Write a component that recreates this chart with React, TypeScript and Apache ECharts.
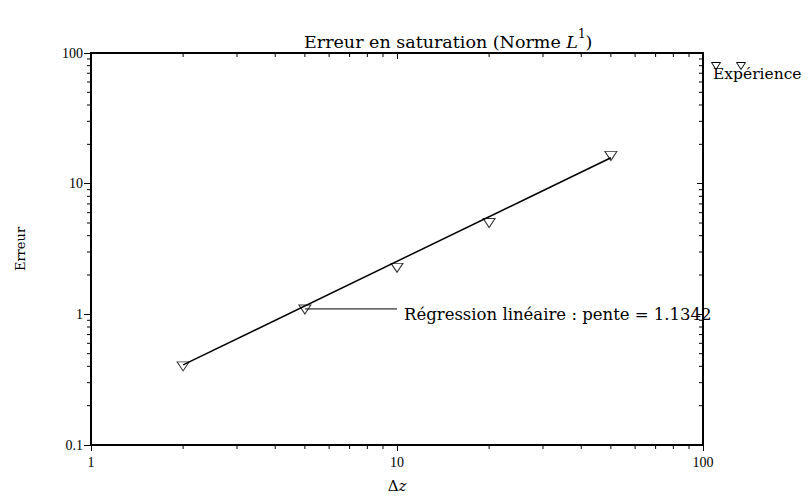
import React, { useEffect, useRef } from "react";
import * as echarts from "echarts";

// ---- data ----
const expX: number[] = [2, 5, 10, 20, 50];
const expY: number[] = [0.40, 1.09, 2.27, 5.0, 16.3];
const regX: number[] = [2, 50];
const regY: number[] = [0.41, 15.8];
const annotX: number[] = [5, 10];
const annotY: number[] = [1.1, 1.1];
const slopeText = "Régression linéaire : pente = 1.1342";
const legendText = "Expérience";
const xMinorTicks: number[] = [2, 3, 4, 5, 6, 7, 8, 9, 20, 30, 40, 50, 60, 70, 80, 90];
const yMinorTicks: number[] = [0.2, 0.3, 0.4, 0.5, 0.6, 0.7, 0.8, 0.9, 2, 3, 4, 5, 6, 7, 8, 9, 20, 30, 40, 50, 60, 70, 80, 90];

const SERIF = "DejaVu Serif";
const TIMES = "Liberation Serif";

export default function App() {
  const ref = useRef<HTMLDivElement>(null);
  useEffect(() => {
    if (!ref.current) return;
    const chart = echarts.init(ref.current, null, { renderer: "svg" });
    const axisLine = { show: true, lineStyle: { color: "#000", width: 2 } };
    const option: any = {
      animation: false,
      backgroundColor: "#fff",
      title: {
        text: "{a|Erreur en saturation (Norme }{i|L}{s|1}{a|)}",
        left: 299,
        top: 23,
        textStyle: {
          fontWeight: "normal",
          rich: {
            a: { fontFamily: SERIF, fontSize: 17.5, fontWeight: "normal", color: "#000", lineHeight: 28 },
            i: { fontFamily: SERIF, fontSize: 17.5, fontWeight: "normal", fontStyle: "italic", color: "#000", lineHeight: 28 },
            s: { fontFamily: SERIF, fontSize: 12, fontWeight: "normal", color: "#000", lineHeight: 13, verticalAlign: "top" },
          },
        },
      },
      grid: { left: 91, right: 106, top: 53, bottom: 51, containLabel: false },
      xAxis: [
        {
          type: "log",
          logBase: 10,
          min: 1,
          max: 100,
          position: "bottom",
          axisLine,
          axisTick: { show: true, inside: false, length: 6, lineStyle: { color: "#000", width: 1 } },
          axisLabel: { fontFamily: TIMES, fontSize: 14, color: "#000", margin: 10 },
          splitLine: { show: false },
          name: "{a|Δ}{i|z}",
          nameLocation: "middle",
          nameGap: 33,
          nameTextStyle: {
            rich: {
              a: { fontFamily: SERIF, fontSize: 15, color: "#000" },
              i: { fontFamily: SERIF, fontSize: 15, fontStyle: "italic", color: "#000" },
            },
          },
        },
        {
          type: "log",
          logBase: 10,
          min: 1,
          max: 100,
          position: "top",
          axisLine,
          axisTick: { show: true, inside: true, length: 6, lineStyle: { color: "#000", width: 1 } },
          axisLabel: { show: false },
          splitLine: { show: false },
        },
      ],
      yAxis: [
        {
          type: "log",
          logBase: 10,
          min: 0.1,
          max: 100,
          position: "left",
          axisLine,
          axisTick: { show: true, inside: false, length: 7, lineStyle: { color: "#000", width: 1 } },
          axisLabel: { fontFamily: TIMES, fontSize: 14, color: "#000", margin: 8 },
          splitLine: { show: false },
          name: "Erreur",
          nameLocation: "middle",
          nameGap: 64,
          nameTextStyle: { fontFamily: SERIF, fontSize: 13, color: "#000" },
        },
        {
          type: "log",
          logBase: 10,
          min: 0.1,
          max: 100,
          position: "right",
          axisLine,
          axisTick: { show: true, inside: true, length: 6, lineStyle: { color: "#000", width: 1 } },
          axisLabel: { show: false },
          splitLine: { show: false },
        },
      ],
      series: [
        {
          name: "Régression",
          type: "line",
          data: regX.map((x, i) => [x, regY[i]]),
          showSymbol: false,
          symbol: "none",
          lineStyle: { color: "#000", width: 1.5 },
          z: 3,
        },
        {
          name: "annot",
          type: "line",
          data: annotX.map((x, i) => [x, annotY[i]]),
          symbol: "none",
          lineStyle: { color: "#000", width: 1 },
          endLabel: {
            show: true,
            formatter: slopeText,
            fontFamily: SERIF,
            fontSize: 16.5,
            color: "#000",
            distance: 7,
            offset: [0, 6],
          },
          z: 3,
        },
        {
          name: legendText,
          type: "scatter",
          data: expX.map((x, i) => [x, expY[i]]),
          symbol: "triangle",
          symbolRotate: 180,
          symbolSize: [12, 9],
          itemStyle: { color: "rgba(255,255,255,0)", borderColor: "#000", borderWidth: 1 },
          z: 4,
        },
        {
          name: "xminor",
          type: "custom",
          clip: false,
          silent: true,
          data: xMinorTicks.map((v) => [v, 1]),
          renderItem: (params: any, api: any) => {
            const cs = params.coordSys;
            const p = api.coord([api.value(0), 1]);
            const bottom = cs.y + cs.height;
            const len = 4;
            return {
              type: "group",
              children: [
                { type: "line", shape: { x1: p[0], y1: bottom, x2: p[0], y2: bottom + len }, style: { stroke: "#000", lineWidth: 1 } },
                { type: "line", shape: { x1: p[0], y1: cs.y, x2: p[0], y2: cs.y + len }, style: { stroke: "#000", lineWidth: 1 } },
              ],
            };
          },
          z: 2,
        },
        {
          name: "yminor",
          type: "custom",
          clip: false,
          silent: true,
          data: yMinorTicks.map((v) => [1, v]),
          renderItem: (params: any, api: any) => {
            const cs = params.coordSys;
            const p = api.coord([1, api.value(1)]);
            const right = cs.x + cs.width;
            const len = 4;
            return {
              type: "group",
              children: [
                { type: "line", shape: { x1: cs.x - len, y1: p[1], x2: cs.x, y2: p[1] }, style: { stroke: "#000", lineWidth: 1 } },
                { type: "line", shape: { x1: right - len, y1: p[1], x2: right, y2: p[1] }, style: { stroke: "#000", lineWidth: 1 } },
              ],
            };
          },
          z: 2,
        },
      ],
      graphic: [
        {
          type: "polygon",
          x: 716,
          y: 66,
          shape: { points: [[-4.5, -3.5], [4.5, -3.5], [0, 3.5]] },
          style: { fill: "none", stroke: "#000", lineWidth: 1 },
          z: 10,
        },
        {
          type: "polygon",
          x: 741,
          y: 66,
          shape: { points: [[-4.5, -3.5], [4.5, -3.5], [0, 3.5]] },
          style: { fill: "none", stroke: "#000", lineWidth: 1 },
          z: 10,
        },
        {
          type: "text",
          x: 713,
          y: 74,
          style: {
            text: legendText,
            fontFamily: SERIF,
            fontSize: 15.5,
            fill: "#000",
            verticalAlign: "middle",
          },
          z: 10,
        },
      ],
    };
    chart.setOption(option);
    return () => chart.dispose();
  }, []);
  return (
    <div
      ref={ref}
      style={{ position: "fixed", left: 0, top: 0, width: 809, height: 498, background: "#fff" }}
    />
  );
}
